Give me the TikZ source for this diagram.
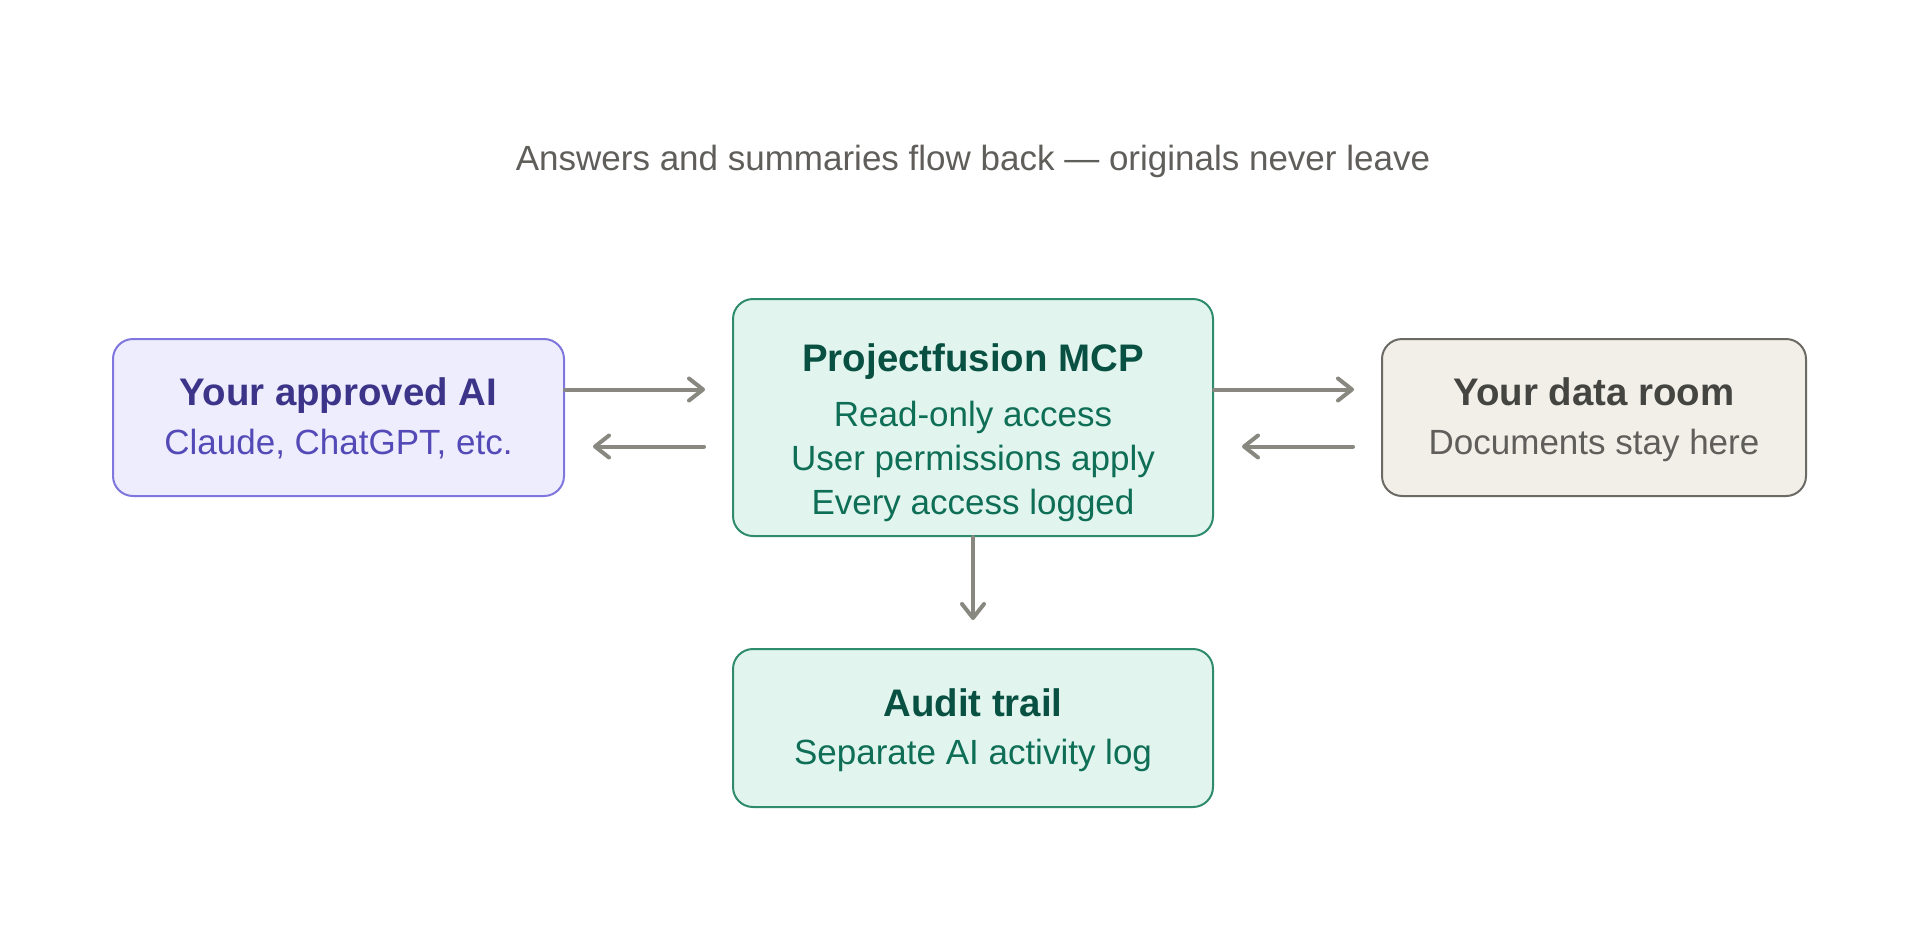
\documentclass[tikz,border=0pt]{standalone}
\usepackage{fontspec}
\setmainfont{Liberation Sans}
\usetikzlibrary{arrows.meta}
\definecolor{aiFill}{HTML}{EEEDFE}
\definecolor{aiLine}{HTML}{7F77DD}
\definecolor{aiHead}{HTML}{3C3489}
\definecolor{aiSub}{HTML}{534AB7}
\definecolor{mcFill}{HTML}{E1F5EE}
\definecolor{mcLine}{HTML}{2E8B6E}
\definecolor{mcHead}{HTML}{085041}
\definecolor{mcSub}{HTML}{0F6E56}
\definecolor{rmFill}{HTML}{F1EFE8}
\definecolor{rmLine}{HTML}{6B6A65}
\definecolor{rmHead}{HTML}{444441}
\definecolor{rmSub}{HTML}{5F5E5A}
\definecolor{ttl}{HTML}{5F5E5A}
\definecolor{arrg}{HTML}{888780}
\begin{document}
\begin{tikzpicture}[x=1pt,y=-1pt,
  box/.style={draw, line width=2pt, rounded corners=20pt, inner sep=0pt, anchor=center},
  headtxt/.style={anchor=base, inner sep=0pt, font=\fontsize{38.4}{46}\selectfont\bfseries},
  subtxt/.style={anchor=base, inner sep=0pt, font=\fontsize{35}{42}\selectfont},
  arr/.style={draw=arrg, line width=4pt, line cap=round, -{Straight Barb[length=14pt,width=22pt,round]}}
]
\fill[white] (0,0) rectangle (1920,932);
\useasboundingbox (0,0) rectangle (1920,932);

\node[subtxt, text=ttl] (title) at (973,170) {Answers and summaries flow back — originals never leave};

\node[box, fill=aiFill, draw=aiLine, minimum width=451pt, minimum height=157pt] (ai) at (338.5,417.5) {};
\node[box, fill=mcFill, draw=mcLine, minimum width=480pt, minimum height=237pt] (mcp) at (973,417.5) {};
\node[box, fill=rmFill, draw=rmLine, minimum width=424pt, minimum height=157pt] (room) at (1594,417.5) {};
\node[box, fill=mcFill, draw=mcLine, minimum width=480pt, minimum height=158pt] (audit) at (973,728) {};

\node[headtxt, text=aiHead] (aih) at (338.5,405) {Your approved AI};
\node[subtxt, text=aiSub] (ais) at (338.5,454) {Claude, ChatGPT, etc.};

\node[headtxt, text=mcHead] (mch) at (973,371) {Projectfusion MCP};
\node[subtxt, text=mcSub] (mc1) at (973,426) {Read-only access};
\node[subtxt, text=mcSub] (mc2) at (973,470) {User permissions apply};
\node[subtxt, text=mcSub] (mc3) at (973,514) {Every access logged};

\node[headtxt, text=rmHead] (rmh) at (1594,405) {Your data room};
\node[subtxt, text=rmSub] (rms) at (1594,454) {Documents stay here};

\node[headtxt, text=mcHead] (auh) at (973,716) {Audit trail};
\node[subtxt, text=mcSub] (aus) at (973,764) {Separate AI activity log};

\coordinate (yt) at (0,389.5);
\coordinate (yb) at (0,446.5);

\draw[arr, shorten >=27pt] (ai.east |- yt) -- (mcp.west |- yt);
\draw[arr, shorten <=28pt, shorten >=28pt] (mcp.west |- yb) -- (ai.east |- yb);
\draw[arr, shorten >=27pt] (mcp.east |- yt) -- (room.west |- yt);
\draw[arr, shorten <=28pt, shorten >=28pt] (room.west |- yb) -- (mcp.east |- yb);
\draw[arr, shorten >=28pt] (mcp.south) -- (audit.north);
\end{tikzpicture}
\end{document}
